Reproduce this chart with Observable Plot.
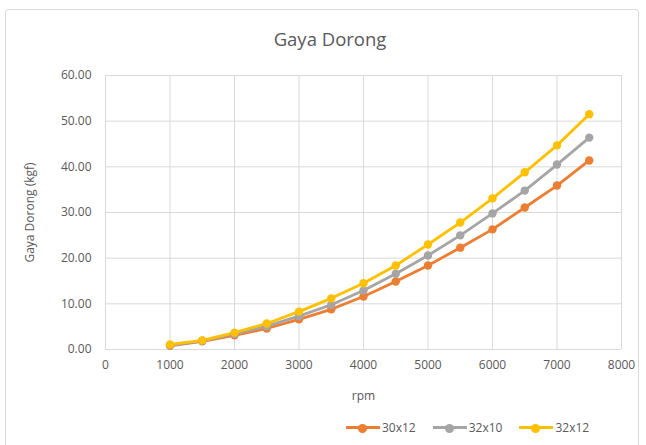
<!DOCTYPE html>
<html><head><meta charset="utf-8">
<script src="https://cdn.jsdelivr.net/npm/d3@7"></script>
<script src="https://cdn.jsdelivr.net/npm/@observablehq/plot@0.6"></script>
<style>
body{margin:0;background:#fff;font-family:"Open Sans",sans-serif;}
#wrap{position:relative;width:646px;height:445px;overflow:hidden;}
#border{position:absolute;left:5px;top:9px;width:634px;height:450px;border:1px solid #d9d9d9;border-radius:3px;box-sizing:border-box;}
#title{position:absolute;left:0;width:660px;top:26px;text-align:center;font-size:18.5px;color:#595959;}
#legend{position:absolute;top:419px;left:346px;font-size:12px;color:#595959;display:flex;gap:0;}
.item{display:flex;align-items:center;margin-right:17px;}
.sw{position:relative;width:34px;height:14px;margin-right:2px;}
.sw .ln{position:absolute;left:0;top:5.5px;width:34px;height:3px;}
.sw .dt{position:absolute;left:12px;top:3px;width:9px;height:9px;border-radius:50%;}
#chart{position:absolute;left:0;top:0;}
</style></head>
<body><div id="wrap"><div id="border"></div><div id="title">Gaya Dorong</div><div id="chart"></div><div id="legend"></div></div>
<script>
const rpm = [1000,1500,2000,2500,3000,3500,4000,4500,5000,5500,6000,6500,7000,7500];
const s30x12 = [0.8,1.8,3.1,4.6,6.6,8.8,11.6,14.9,18.4,22.3,26.3,31.1,35.9,41.4];
const s32x10 = [0.9,1.9,3.4,5.1,7.3,9.8,12.9,16.6,20.6,25.0,29.8,34.8,40.5,46.4];
const s32x12 = [1.1,2.0,3.7,5.7,8.3,11.2,14.5,18.4,23.0,27.8,33.1,38.8,44.7,51.5];
const seriesNames = ["30x12","32x10","32x12"];
const seriesColors = ["#ED7D31","#A5A5A5","#FFC000"];
const xTicks = [0,1000,2000,3000,4000,5000,6000,7000,8000];
const yTicks = [0,10,20,30,40,50,60];

const values = [s30x12, s32x10, s32x12];
const data = [];
values.forEach((arr,i)=>arr.forEach((v,j)=>data.push({rpm:rpm[j], val:v, s:seriesNames[i]})));

const plot = Plot.plot({
  width:646, height:445,
  marginLeft:105, marginRight:25, marginTop:75, marginBottom:96,
  style:{fontFamily:"Open Sans, sans-serif", fontSize:"12px", color:"#595959", background:"transparent"},
  x:{domain:[0,8000], ticks:xTicks, tickSize:0, tickPadding:11, tickFormat:d3.format("d"), label:"rpm", labelAnchor:"center", labelOffset:50, labelArrow:"none"},
  y:{domain:[0,60], ticks:yTicks, tickSize:0, tickPadding:14, tickFormat:d3.format(".2f"), label:"Gaya Dorong (kgf)", labelAnchor:"center", labelOffset:80, labelArrow:"none"},
  color:{domain:seriesNames, range:seriesColors},
  marks:[
    Plot.ruleX(xTicks,{stroke:"#d9d9d9", strokeWidth:1}),
    Plot.ruleY(yTicks,{stroke:"#d9d9d9", strokeWidth:1}),
    Plot.line(data,{x:"rpm", y:"val", z:"s", stroke:"s", strokeWidth:2.8}),
    Plot.dot(data,{x:"rpm", y:"val", fill:"s", r:4.2}),
  ]
});
document.getElementById("chart").appendChild(plot);

const lg = document.getElementById("legend");
seriesNames.forEach((n,i)=>{
  const it=document.createElement("div"); it.className="item";
  it.innerHTML=`<div class="sw"><div class="ln" style="background:${seriesColors[i]}"></div><div class="dt" style="background:${seriesColors[i]}"></div></div><span>${n}</span>`;
  lg.appendChild(it);
});
</script></body></html>
